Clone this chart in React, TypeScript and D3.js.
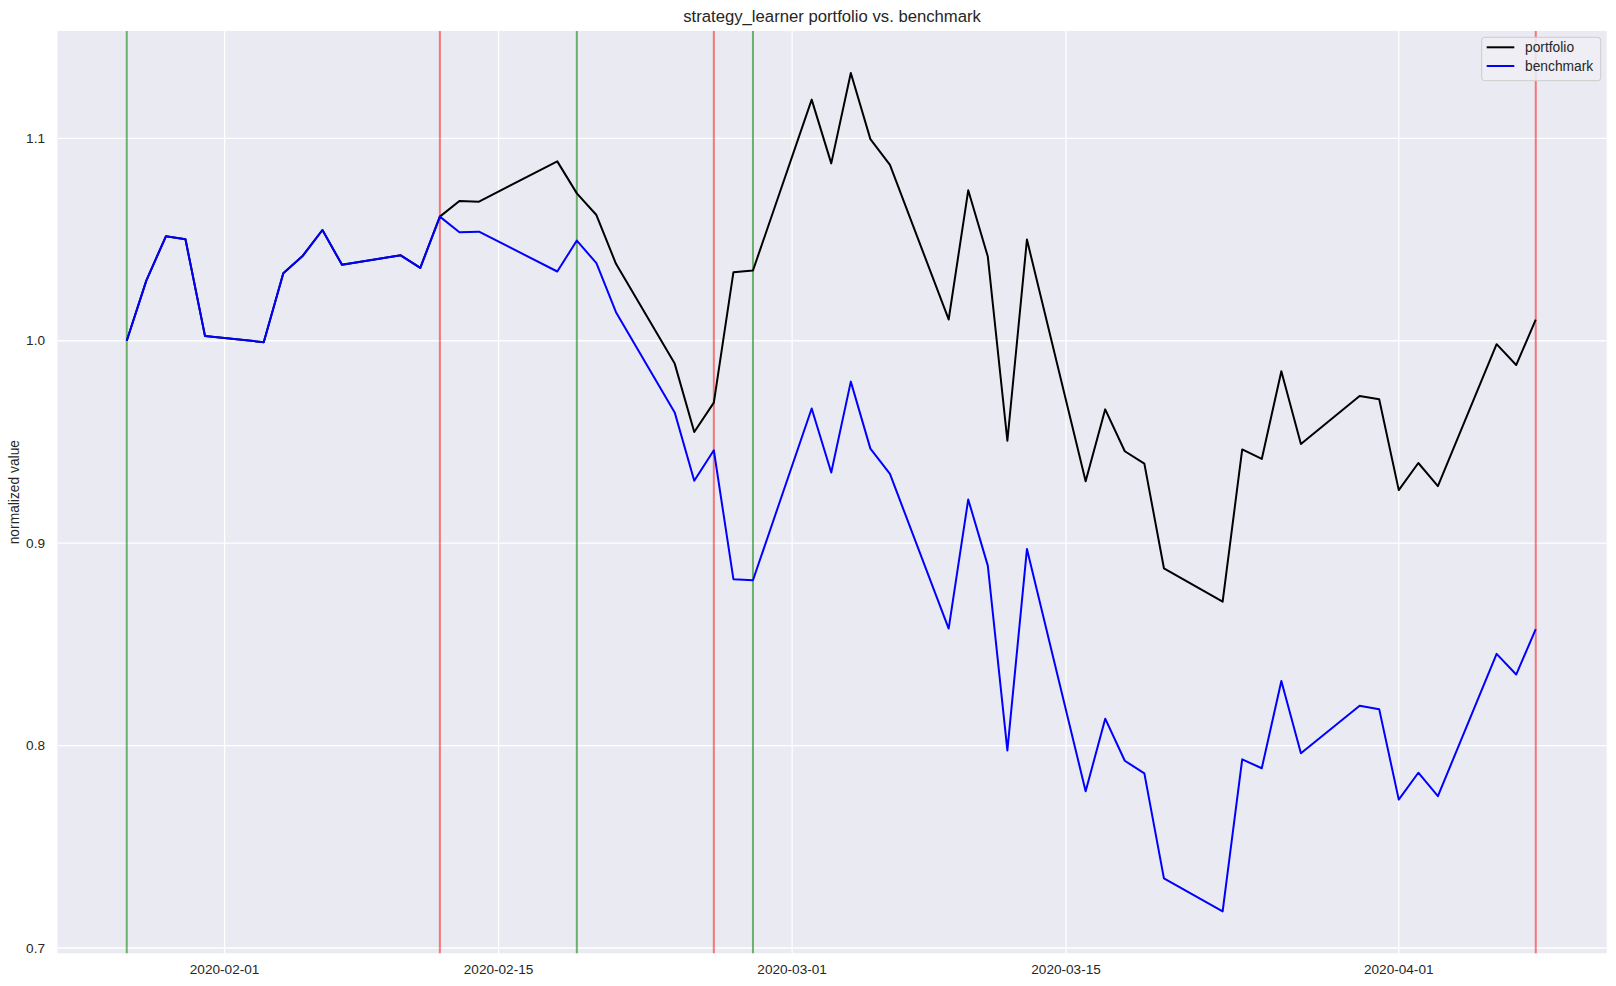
import React from "react";
import * as d3 from "d3";

const dates = [
  "2020-01-27","2020-01-28","2020-01-29","2020-01-30","2020-01-31",
  "2020-02-03","2020-02-04","2020-02-05","2020-02-06","2020-02-07",
  "2020-02-10","2020-02-11","2020-02-12","2020-02-13","2020-02-14",
  "2020-02-18","2020-02-19","2020-02-20","2020-02-21",
  "2020-02-24","2020-02-25","2020-02-26","2020-02-27","2020-02-28",
  "2020-03-02","2020-03-03","2020-03-04","2020-03-05","2020-03-06",
  "2020-03-09","2020-03-10","2020-03-11","2020-03-12","2020-03-13",
  "2020-03-16","2020-03-17","2020-03-18","2020-03-19","2020-03-20",
  "2020-03-23","2020-03-24","2020-03-25","2020-03-26","2020-03-27",
  "2020-03-30","2020-03-31","2020-04-01","2020-04-02","2020-04-03",
  "2020-04-06","2020-04-07","2020-04-08",
];

const portfolio = [
  1.0, 1.0297, 1.0516, 1.0501, 1.0023,
  0.9993, 1.0333, 1.042, 1.0547, 1.0375,
  1.0422, 1.036, 1.0613, 1.069, 1.0687,
  1.0886, 1.0728, 1.0621, 1.038,
  0.9887, 0.9549, 0.9694, 1.0338, 1.0347,
  1.1191, 1.0876, 1.1323, 1.0996, 1.0869,
  1.0105, 1.0743, 1.0416, 0.9506, 1.05,
  0.9306, 0.9661, 0.9454, 0.9393, 0.8876,
  0.8711, 0.9463, 0.9416, 0.9849, 0.949,
  0.9727, 0.9711, 0.9262, 0.9396, 0.9282,
  0.9983, 0.988, 1.0104,
];

const benchmark = [
  1.0, 1.0297, 1.0516, 1.0501, 1.0023,
  0.9993, 1.0333, 1.042, 1.0547, 1.0375,
  1.0422, 1.036, 1.0613, 1.0536, 1.0539,
  1.0342, 1.0495, 1.0383, 1.0141,
  0.9646, 0.9308, 0.9459, 0.8822, 0.8817,
  0.9665, 0.9349, 0.9798, 0.9467, 0.9342,
  0.8578, 0.9216, 0.8889, 0.7976, 0.8971,
  0.7774, 0.8133, 0.7925, 0.7863, 0.7344,
  0.7181, 0.7932, 0.7888, 0.8319, 0.7962,
  0.8197, 0.818, 0.7733, 0.7866, 0.775,
  0.8453, 0.8351, 0.8575,
];

const buyDates = ["2020-01-27", "2020-02-19", "2020-02-28"];
const sellDates = ["2020-02-12", "2020-02-26", "2020-04-08"];

const xTickLabels = ["2020-02-01", "2020-02-15", "2020-03-01", "2020-03-15", "2020-04-01"];
const yTickValues = [0.7, 0.8, 0.9, 1.0, 1.1];

const W = 1616;
const H = 986;
const M = { left: 57.5, right: 1606.7, top: 31, bottom: 953.3 };
const X_RANGE: [number, number] = [56.3, 1606.2];
const FONT = "'Liberation Sans', Arial, 'DejaVu Sans', sans-serif";
const TXT = "#262626";

const parse = (s: string) => new Date(s + "T00:00:00Z");

export default function App() {
  const xs = dates.map(parse);
  const [x0, x1] = d3.extent(xs) as [Date, Date];
  const xPad = (x1.getTime() - x0.getTime()) * 0.05;
  const x = d3
    .scaleUtc()
    .domain([new Date(x0.getTime() - xPad), new Date(x1.getTime() + xPad)])
    .range(X_RANGE);

  const all = portfolio.concat(benchmark);
  const yMin = d3.min(all)!;
  const yMax = d3.max(all)!;
  const yPad = (yMax - yMin) * 0.05;
  const y = d3.scaleLinear().domain([yMin - yPad, yMax + yPad]).range([M.bottom, M.top]);

  const line = d3
    .line<number>()
    .x((_, i) => x(xs[i]))
    .y((d) => y(d));

  const xTicks = xTickLabels.map(parse);
  const fmt = d3.utcFormat("%Y-%m-%d");
  const yFmt = d3.format(".1f");

  return (
    <svg width={W} height={H} style={{ position: "absolute", left: 0, top: 0, background: "#fff" }}>
      <rect x={M.left} y={M.top} width={M.right - M.left} height={M.bottom - M.top} fill="#EAEAF2" />
      {xTicks.map((t, i) => (
        <line key={"gx" + i} x1={x(t)} x2={x(t)} y1={M.top} y2={M.bottom} stroke="#fff" strokeWidth={1.3} />
      ))}
      {yTickValues.map((v, i) => (
        <line key={"gy" + i} x1={M.left} x2={M.right} y1={y(v)} y2={y(v)} stroke="#fff" strokeWidth={1.3} />
      ))}
      {buyDates.map((d, i) => (
        <line key={"b" + i} x1={x(parse(d))} x2={x(parse(d))} y1={M.top} y2={M.bottom} stroke="#008000" strokeOpacity={0.55} strokeWidth={2} />
      ))}
      {sellDates.map((d, i) => (
        <line key={"s" + i} x1={x(parse(d))} x2={x(parse(d))} y1={M.top} y2={M.bottom} stroke="#ff0000" strokeOpacity={0.5} strokeWidth={2} />
      ))}
      <path d={line(portfolio)!} fill="none" stroke="#000" strokeWidth={2} strokeLinejoin="round" />
      <path d={line(benchmark)!} fill="none" stroke="#0000ff" strokeWidth={2} strokeLinejoin="round" />

      {xTicks.map((t, i) => (
        <text key={"tx" + i} x={x(t)} y={973.8} textAnchor="middle" fontFamily={FONT} fontSize={13.6} fill={TXT}>
          {fmt(t)}
        </text>
      ))}
      {yTickValues.map((v, i) => (
        <text key={"ty" + i} x={45} y={y(v)} dy="0.35em" textAnchor="end" fontFamily={FONT} fontSize={13.6} fill={TXT}>
          {yFmt(v)}
        </text>
      ))}
      <text
        transform={`translate(19,${(M.top + M.bottom) / 2}) rotate(-90)`}
        textAnchor="middle"
        fontFamily={FONT}
        fontSize={13.8}
        fill={TXT}
      >
        normalized value
      </text>
      <text x={(M.left + M.right) / 2} y={22} textAnchor="middle" fontFamily={FONT} fontSize={16.7} fill={TXT}>
        strategy_learner portfolio vs. benchmark
      </text>

      <g>
        <rect x={1481.7} y={37.3} width={119} height={43.4} rx={3} fill="#EEEEF4" fillOpacity={0.85} stroke="#cccccc" strokeWidth={1} />
        <line x1={1486.7} x2={1514.3} y1={47.3} y2={47.3} stroke="#000" strokeWidth={2} />
        <line x1={1486.7} x2={1514.3} y1={66} y2={66} stroke="#0000ff" strokeWidth={2} />
        <text x={1525} y={47.3} dy="0.35em" fontFamily={FONT} fontSize={13.8} fill={TXT}>portfolio</text>
        <text x={1525} y={66} dy="0.35em" fontFamily={FONT} fontSize={13.8} fill={TXT}>benchmark</text>
      </g>
    </svg>
  );
}
